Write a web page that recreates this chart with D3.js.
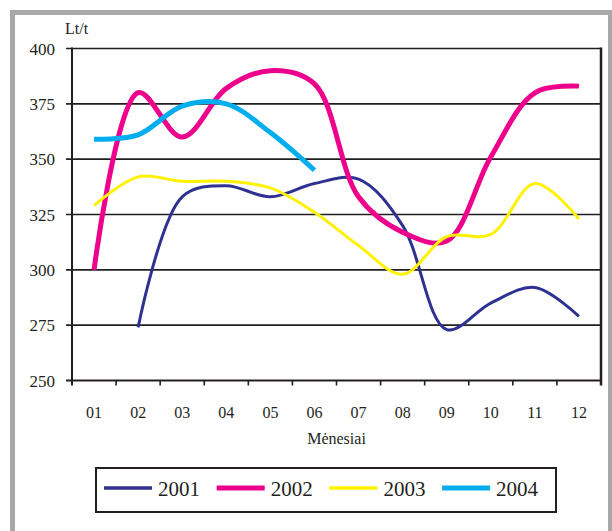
<!DOCTYPE html>
<html>
<head>
<meta charset="utf-8">
<script src="https://cdn.jsdelivr.net/npm/d3@7"></script>
<style>
  body { margin: 0; background: #fff; }
</style>
</head>
<body>
<div class="canvas"></div>
<script>
// data (Lt/t by month)
const months = ["01", "02", "03", "04", "05", "06", "07", "08", "09", "10", "11", "12"];
const years = ["2001", "2002", "2003", "2004"];
const v2001 = [null, 274, 333, 338, 333, 339, 341, 320, 273, 285, 292, 279];
const v2002 = [300, 380, 360, 382, 390, 384, 333, 317, 313, 351, 380, 383];
const v2003 = [329, 342, 340, 340, 337, 326, 311, 298, 315, 316, 339, 323];
const v2004 = [359, 361, 374, 375, 362, 345, null, null, null, null, null, null];
const yTicks = [250, 275, 300, 325, 350, 375, 400];

const colors = ["#2e3192", "#ec008c", "#fff200", "#00aeef"];
const widths = [3, 5, 3, 5];

const dims = { width: 612, height: 531 };
const plot = { left: 72, top: 48.5, right: 601, bottom: 380.5 };
const serif = "'Liberation Serif', 'Times New Roman', 'DejaVu Serif', serif";

const svg = d3
    .select(".canvas")
    .append("svg")
    .attr("width", dims.width)
    .attr("height", dims.height)
    .attr("font-family", serif);

// outer grey frame
svg.append("rect")
    .attr("x", 12.5)
    .attr("y", 12.5)
    .attr("width", 598)
    .attr("height", 540)
    .attr("fill", "#fff")
    .attr("stroke", "#a8a8a8")
    .attr("stroke-width", 5);

const x = d3.scaleBand().domain(months).range([plot.left, plot.right]);
const y = d3.scaleLinear().domain([250, 400]).range([plot.bottom, plot.top]);

// gridlines
svg.append("g")
    .selectAll("line")
    .data(yTicks)
    .join("line")
    .attr("x1", plot.left - 6)
    .attr("x2", plot.right)
    .attr("y1", (d) => y(d))
    .attr("y2", (d) => y(d))
    .attr("stroke", "#231f20")
    .attr("stroke-width", (d) => (d === 250 ? 2 : 1.6));

// right border
svg.append("line")
    .attr("x1", plot.right)
    .attr("x2", plot.right)
    .attr("y1", plot.top - 1)
    .attr("y2", plot.bottom + 5)
    .attr("stroke", "#231f20")
    .attr("stroke-width", 2.5);

// left axis line
svg.append("line")
    .attr("x1", plot.left)
    .attr("x2", plot.left)
    .attr("y1", plot.top - 1)
    .attr("y2", plot.bottom + 5)
    .attr("stroke", "#231f20")
    .attr("stroke-width", 2);

// x ticks at band edges
const edges = months.map((m) => x(m)).concat([plot.right]);
svg.append("g")
    .selectAll("line")
    .data(edges.slice(1, -1))
    .join("line")
    .attr("x1", (d) => d)
    .attr("x2", (d) => d)
    .attr("y1", plot.bottom)
    .attr("y2", plot.bottom + 5)
    .attr("stroke", "#231f20")
    .attr("stroke-width", 1.6);

// text
const ink = "#231f20";

svg.append("g")
    .selectAll("text")
    .data(yTicks)
    .join("text")
    .attr("x", 55)
    .attr("y", (d) => y(d) + 6)
    .attr("text-anchor", "end")
    .attr("font-size", 17)
    .attr("fill", ink)
    .text((d) => d);

svg.append("g")
    .selectAll("text")
    .data(months)
    .join("text")
    .attr("x", (d) => x(d) + x.bandwidth() / 2)
    .attr("y", 418)
    .attr("text-anchor", "middle")
    .attr("font-size", 16)
    .attr("fill", ink)
    .text((d) => d);

svg.append("text")
    .attr("x", (plot.left + plot.right) / 2)
    .attr("y", 444)
    .attr("text-anchor", "middle")
    .attr("font-size", 16)
    .attr("fill", ink)
    .text("Mėnesiai");

svg.append("text")
    .attr("x", 65)
    .attr("y", 34)
    .attr("font-size", 16)
    .attr("fill", ink)
    .text("Lt/t");

// lines
const series = [v2001, v2002, v2003, v2004];
const line = d3
    .line()
    .x((d) => x(d.m) + x.bandwidth() / 2)
    .y((d) => y(d.v))
    .curve(d3.curveCatmullRom.alpha(0.5));

svg.append("g")
    .selectAll("path")
    .data(series)
    .join("path")
    .attr("d", (s) => line(months.map((m, i) => ({ m, v: s[i] })).filter((d) => d.v !== null)))
    .attr("fill", "none")
    .attr("stroke", (s, i) => colors[i])
    .attr("stroke-width", (s, i) => widths[i])
    .attr("stroke-linejoin", "round");

// legend
const legend = svg.append("g");
legend.append("rect")
    .attr("x", 96)
    .attr("y", 468)
    .attr("width", 460)
    .attr("height", 44)
    .attr("fill", "#fff")
    .attr("stroke", ink)
    .attr("stroke-width", 2);

const items = legend
    .selectAll("g")
    .data(years)
    .join("g")
    .attr("transform", (d, i) => `translate(${104 + i * 112.7}, 488)`);

items.append("line")
    .attr("x1", 0)
    .attr("x2", 48)
    .attr("stroke", (d, i) => colors[i])
    .attr("stroke-width", (d, i) => (i === 1 || i === 3 ? 5 : 3.5));

items.append("text")
    .attr("x", 54)
    .attr("y", 8)
    .attr("font-size", 21)
    .attr("fill", ink)
    .text((d) => d);
</script>
</body>
</html>
